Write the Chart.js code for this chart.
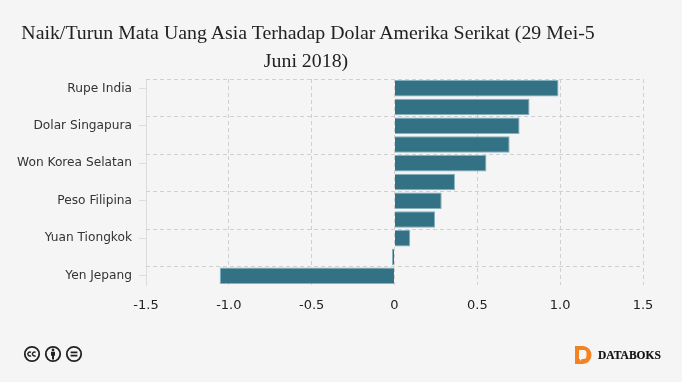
<!DOCTYPE html>
<html lang="id">
<head>
<meta charset="UTF-8">
<title>Naik/Turun Mata Uang Asia</title>
<script src="https://cdn.jsdelivr.net/npm/chart.js"></script>
<style>
  html, body { margin: 0; padding: 0; background: #f5f5f5; overflow: hidden; }
  #wrap { position: relative; width: 682px; height: 382px; }
  canvas { position: absolute; left: 0; top: 0; }
  #title { position: absolute; left: 0; top: 18px; width: 616px; text-align: center;
           font: 19.85px/28px "Liberation Serif", serif; color: #222; }
  #title span { position: relative; left: -2px; }
  #cc { position: absolute; left: 23px; top: 345px; }
  #logo { position: absolute; left: 574px; top: 345px; }
  #brand { position: absolute; left: 598px; top: 348px; font: bold 11.5px/14px "Liberation Serif", serif;
           color: #111; -webkit-text-stroke: 0.2px #111; }
</style>
</head>
<body>
<div id="wrap">
  <canvas id="chart" width="682" height="382"></canvas>
  <div id="title">Naik/Turun Mata Uang Asia Terhadap Dolar Amerika Serikat (29 Mei-5<br><span>Juni 2018)</span></div>
  <svg id="cc" width="60" height="18" viewBox="0 0 60 18" fill="none" stroke="#222" stroke-width="1.8">
    <circle cx="9" cy="9" r="7.2"/>
    <path d="M8 7.4a2 2 0 1 0 0 3.2M12.6 7.4a2 2 0 1 0 0 3.2" stroke-width="1.4"/>
    <circle cx="30" cy="9" r="7.2"/>
    <circle cx="30" cy="4.9" r="1.3" fill="#222" stroke="none"/>
    <path d="M28 6.8h4v4h-1v3.6h-2v-3.6h-1z" fill="#222" stroke="none"/>
    <circle cx="51" cy="9" r="7.2"/>
    <path d="M47.6 7.4h6.8M47.6 10.6h6.8"/>
  </svg>
  <svg id="logo" width="19" height="20" viewBox="0 0 19 20">
    <path d="M1 1h8a8.5 9 0 0 1 0 18H1z" fill="#f58220"/>
    <path d="M5 5h4.500a3 3 0 0 1 3 3v3a3 3 0 0 1-3 3H8l-2 2v-2H5z" fill="#f5f5f5"/>
  </svg>
  <div id="brand">DATABOKS</div>
</div>
<script>
  // only every other category label can be read in the picture
  const categories = ['Rupe India', '', 'Dolar Singapura', '', 'Won Korea Selatan', '', 'Peso Filipina', '', 'Yuan Tiongkok', '', 'Yen Jepang'];
  const changes = [0.99, 0.815, 0.755, 0.695, 0.555, 0.365, 0.285, 0.245, 0.095, -0.015, -1.055];
  const xTicks = [-1.5, -1.0, -0.5, 0, 0.5, 1.0, 1.5];

  const gridColor = '#d0d0d0';

  // horizontal dashed lines sit between categories, on every second boundary
  const bandLines = {
    id: 'bandLines',
    beforeDatasetsDraw(chart) {
      const y = chart.scales.y, area = chart.chartArea, c = chart.ctx;
      const half = (y.getPixelForValue(1) - y.getPixelForValue(0)) / 2;
      c.save();
      c.strokeStyle = gridColor;
      c.lineWidth = 1;
      c.setLineDash([4, 3]);
      y.ticks.forEach(t => {
        const py = Math.round(y.getPixelForValue(t.value) - half) + 0.5;
        c.beginPath();
        c.moveTo(area.left, py);
        c.lineTo(area.right, py);
        c.stroke();
      });
      c.restore();
    }
  };

  new Chart(document.getElementById('chart'), {
    type: 'bar',
    data: {
      labels: categories,
      datasets: [{
        data: changes,
        backgroundColor: 'rgba(38,104,125,0.94)',
        borderColor: 'rgba(120,170,185,0.9)',
        borderWidth: 1,
        barPercentage: 0.88,
        categoryPercentage: 1
      }]
    },
    options: {
      indexAxis: 'y',
      responsive: false,
      animation: false,
      layout: { padding: { top: 79, right: 39, bottom: 67, left: 0 } },
      plugins: { legend: { display: false }, tooltip: { enabled: false } },
      scales: {
        x: {
          min: -1.5,
          max: 1.5,
          afterFit: s => { s.height = 30; },
          afterBuildTicks: s => { s.ticks = xTicks.map(v => ({ value: v })); },
          ticks: {
            font: { family: '"DejaVu Sans", sans-serif', size: 13 },
            color: '#222',
            padding: 13,
            maxRotation: 0,
            callback: v => (v === 0 ? '0' : v.toFixed(1))
          },
          grid: { color: gridColor, drawTicks: false, tickBorderDash: [4, 3] },
          border: { display: false, dash: [4, 3] }
        },
        y: {
          afterFit: s => { s.width = 146; },
          ticks: {
            font: { family: '"DejaVu Sans", sans-serif', size: 12.2 },
            color: '#333',
            padding: 7,
            autoSkip: true,
            maxTicksLimit: 6
          },
          grid: { drawOnChartArea: false, offset: false, tickColor: '#dcdcdc', tickLength: 7 },
          border: { color: '#dcdcdc' }
        }
      }
    },
    plugins: [bandLines]
  });
</script>
</body>
</html>
